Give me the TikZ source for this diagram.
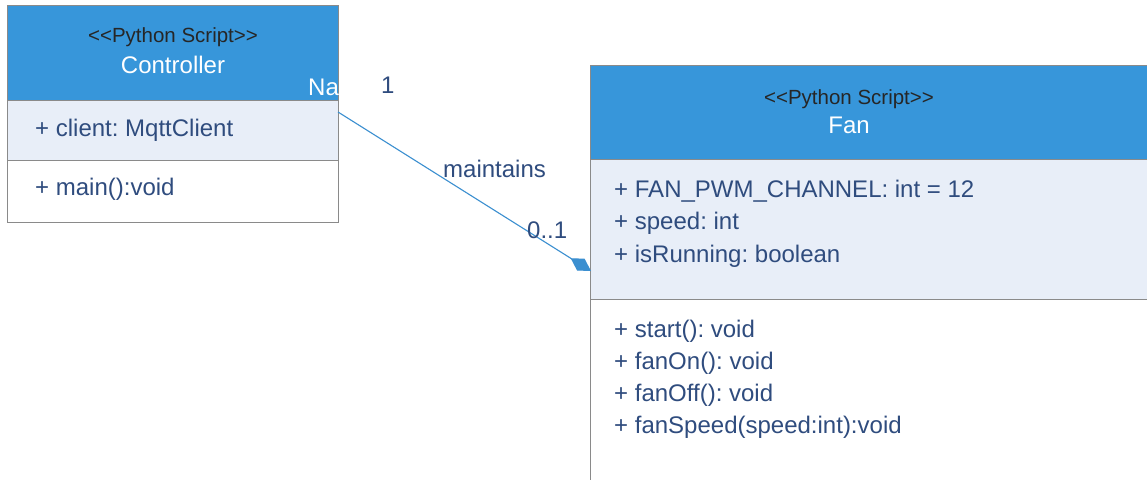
\documentclass[tikz,border=0pt]{standalone}
\usepackage{fontspec}
\setmainfont{Liberation Sans}
\usetikzlibrary{arrows.meta}
\frenchspacing
\definecolor{hdrblue}{HTML}{3796DA}
\definecolor{attrfill}{HTML}{E8EEF8}
\definecolor{boxline}{HTML}{8A8A8A}
\definecolor{txt}{HTML}{2F4C7E}
\definecolor{assoc}{HTML}{3B8FD0}
\tikzset{
  part/.style={draw=boxline, line width=1.2pt, inner sep=0pt, anchor=north west},
  hdr/.style={part, fill=hdrblue},
  attr/.style={part, fill=attrfill},
  meth/.style={part, fill=white},
  stereo/.style={anchor=base, inner sep=0pt, text=black!85, font=\fontsize{20.5}{24}\selectfont},
  cname/.style={anchor=base, inner sep=0pt, text=white, font=\fontsize{24}{28}\selectfont},
  member/.style={anchor=base west, inner sep=0pt, text=txt, font=\fontsize{24}{28}\selectfont},
  rolelbl/.style={anchor=base west, inner sep=0pt, text=txt, font=\fontsize{24}{28}\selectfont},
  link/.style={draw=assoc, line width=1.1pt},
}
\newcommand{\stereotext}[1]{{<}{<}#1{>}{>}}
\begin{document}
\begin{tikzpicture}[x=1pt, y=-1pt]
\useasboundingbox (0,0) rectangle (1147,479);
\clip (0,0) rectangle (1147,479);
\fill[white] (0,0) rectangle (1147,479);

% Controller class
\node[hdr,  minimum width=331pt, minimum height=95pt] (ctrlhead) at (7,5) {};
\node[attr, minimum width=331pt, minimum height=60pt] (ctrlattr) at (7,100) {};
\node[meth, minimum width=331pt, minimum height=62pt] (ctrlmeth) at (7,160) {};
\node[stereo] (ctrlst) at (173,42) {\stereotext{Python Script}};
\node[cname] (ctrlname) at (173,73) {Controller};
\begin{scope}
  \clip (7,5) rectangle (338,100);
  \node[rolelbl, text=white] (ctrlna) at (308,95) {Na};
\end{scope}
\node[member] (ctrla1) at (35,136) {+ client: MqttClient};
\node[member] (ctrlm1) at (35,195) {+ main():void};

% Fan class
\node[hdr,  minimum width=580pt, minimum height=94pt] (fanhead) at (590,65) {};
\node[attr, minimum width=580pt, minimum height=140pt] (fanattr) at (590,159) {};
\node[meth, minimum width=580pt, minimum height=200pt] (fanmeth) at (590,299) {};
\node[stereo] (fanst) at (849,104) {\stereotext{Python Script}};
\node[cname] (fanname) at (849,133) {Fan};
\node[member] (fana1) at (614,197) {+ FAN\_PWM\_CHANNEL: int = 12};
\node[member] (fana2) at (614,229.5) {+ speed: int};
\node[member] (fana3) at (614,262) {+ isRunning: boolean};
\node[member] (fanm1) at (614,337) {+ start(): void};
\node[member] (fanm2) at (614,369) {+ fanOn(): void};
\node[member] (fanm3) at (614,401) {+ fanOff(): void};
\node[member] (fanm4) at (614,433) {+ fanSpeed(speed:int):void};

% Association with its end labels
\coordinate (linkfrom) at (338,112);
\coordinate (linkto) at (591,271);
\draw[link, -{Diamond[length=24pt, width=14pt, fill=assoc]}] (linkfrom) -- (linkto);
\node[rolelbl] (mult1) at (381,93) {1};
\node[rolelbl] (assocname) at (443,177) {maintains};
\node[rolelbl] (mult2) at (527,238) {0..1};
\end{tikzpicture}
\end{document}
